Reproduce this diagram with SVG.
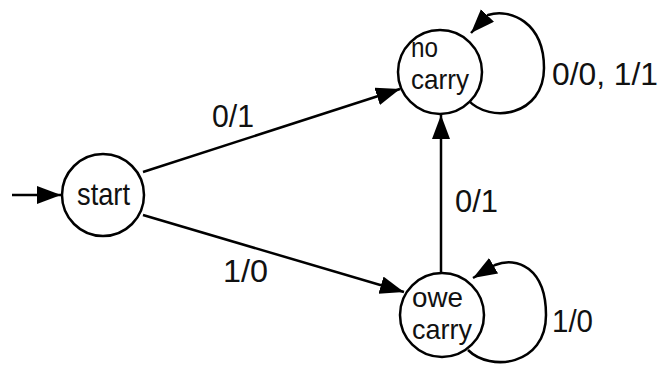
<svg xmlns="http://www.w3.org/2000/svg" width="670" height="365" viewBox="0 0 670 365">
  <style>
    .node { fill: #ffffff; stroke: #000000; stroke-width: 2.5; }
    .edge { fill: none; stroke: #000000; stroke-width: 2.5; marker-end: url(#arrow); }
    .lbl { font-family: "Liberation Sans", Arial, sans-serif; font-size: 32px; fill: #111111; }
    .nl { font-family: "Liberation Sans", Arial, sans-serif; font-size: 28px; fill: #111111; }
  </style>
  <defs>
    <marker id="arrow" markerUnits="userSpaceOnUse" markerWidth="26" markerHeight="20" refX="24" refY="9" orient="auto" viewBox="0 0 26 20">
      <path d="M0,0 L24,9 L0,18 z" fill="#000000"/>
    </marker>
  </defs>
  <rect x="0" y="0" width="670" height="365" fill="#ffffff"/>

  <g id="connectors">
    <path id="e-init" class="edge" d="M 12 195 L 61 195"/>
    <path id="e-start-nocarry" class="edge" d="M 143 172 L 400 89"/>
    <path id="e-start-owecarry" class="edge" d="M 143 215 L 404 292"/>
    <path id="e-owe-nocarry" class="edge" d="M 441 273 L 441 115"/>
    <path id="e-nocarry-loop" class="edge" d="M 468 100 C 490 124, 544 116, 544 68 C 544 22, 510 8, 488 15 L 471 33"/>
    <path id="e-owe-loop" class="edge" d="M 468 350 C 490 372, 546 366, 546 315 C 546 268, 517 256, 495 265 L 473 278"/>
    <text class="lbl" x="212" y="127" textLength="42" lengthAdjust="spacingAndGlyphs">0/1</text>
    <text class="lbl" x="223" y="282" textLength="45" lengthAdjust="spacingAndGlyphs">1/0</text>
    <text class="lbl" x="455" y="212" textLength="43" lengthAdjust="spacingAndGlyphs">0/1</text>
    <text class="lbl" x="552" y="85" textLength="106" lengthAdjust="spacingAndGlyphs">0/0, 1/1</text>
    <text class="lbl" x="552" y="332" textLength="41" lengthAdjust="spacingAndGlyphs">1/0</text>
  </g>

  <g id="start">
    <ellipse class="node" cx="103" cy="195" rx="41" ry="41"/>
    <text class="lbl" x="77" y="205" textLength="53" lengthAdjust="spacingAndGlyphs">start</text>
  </g>

  <g id="no-carry">
    <circle class="node" cx="440" cy="72" r="42"/>
    <text class="nl" x="411" y="57" textLength="27" lengthAdjust="spacingAndGlyphs">no</text>
    <text class="nl" x="411" y="89" textLength="58" lengthAdjust="spacingAndGlyphs">carry</text>
  </g>

  <g id="owe-carry">
    <circle class="node" cx="442" cy="315" r="42"/>
    <text class="nl" x="412" y="307" textLength="51" lengthAdjust="spacingAndGlyphs">owe</text>
    <text class="nl" x="412" y="339" textLength="60" lengthAdjust="spacingAndGlyphs">carry</text>
  </g>
</svg>
